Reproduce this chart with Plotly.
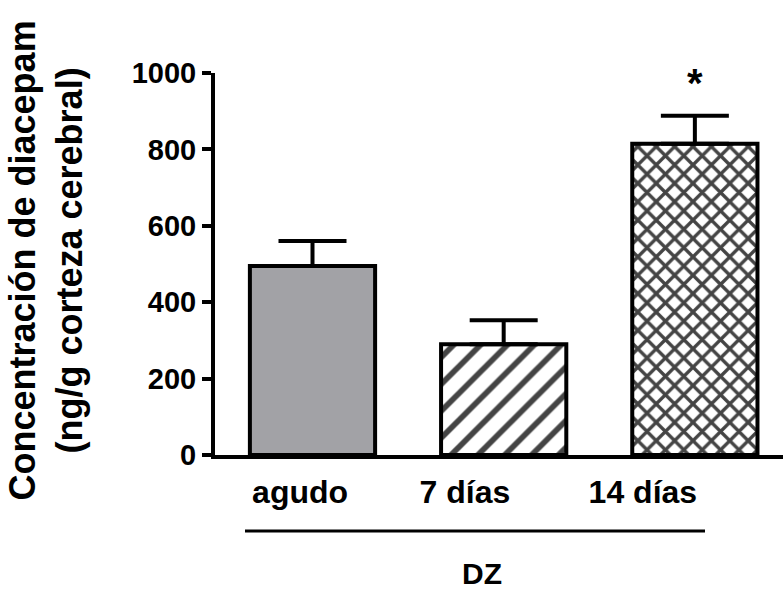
import plotly.graph_objects as go

# ---- data ----
categories = ["agudo", "7 días", "14 días"]
means = [495, 290, 815]
sem = [65, 63, 73]
y_ticks = [0, 200, 400, 600, 800, 1000]

# ---- layout constants ----
bar_x = [0, 1, 2]
label_offsets = [-0.065, -0.203, -0.272]
label_pos = [b + o for b, o in zip(bar_x, label_offsets)]
FONT = "Liberation Sans, Arial, sans-serif"

fig = go.Figure()
fig.add_trace(go.Bar(
    x=bar_x,
    y=means,
    width=0.655,
    marker=dict(
        color=["#a2a2a6", "white", "white"],
        line=dict(color="black", width=4),
        pattern=dict(
            shape=["", "/", "x"],
            size=[10, 19, 13],
            solidity=[0.2, 0.3, 0.45],
            fgcolor="black",
            fgopacity=1,
            fillmode="overlay",
        ),
    ),
    error_y=dict(
        type="data",
        symmetric=False,
        array=sem,
        arrayminus=[0, 0, 0],
        color="black",
        thickness=4,
        width=34,
    ),
    showlegend=False,
))

fig.update_layout(
    width=783,
    height=596,
    margin=dict(l=215, r=0, t=73, b=141),
    plot_bgcolor="white",
    paper_bgcolor="white",
    font=dict(family=FONT, color="black"),
    xaxis=dict(
        range=[-0.51, 2.461],
        tickmode="array",
        tickvals=label_pos,
        ticktext=categories,
        showline=True,
        linecolor="black",
        linewidth=4,
        ticks="",
        showgrid=False,
        zeroline=False,
        tickfont=dict(family=FONT, size=32, weight="bold", color="black"),
        ticklabelstandoff=6,
    ),
    yaxis=dict(
        range=[0, 1000],
        tickmode="array",
        tickvals=y_ticks,
        ticktext=[str(v) for v in y_ticks],
        showline=True,
        linecolor="black",
        linewidth=4,
        ticks="outside",
        ticklen=9,
        tickwidth=4,
        tickcolor="black",
        showgrid=False,
        zeroline=False,
        tickfont=dict(family=FONT, size=29, weight="bold", color="black"),
    ),
    shapes=[
        dict(type="line", xref="paper", yref="paper",
             x0=(245 - 215) / 568, x1=(705 - 215) / 568,
             y0=-0.199, y1=-0.199,
             line=dict(color="black", width=3)),
    ],
    annotations=[
        dict(text="Concentración de diacepam<br>(ng/g corteza cerebral)",
             xref="paper", yref="paper", x=-0.297, y=0.51,
             xanchor="center", yanchor="middle", textangle=-90,
             showarrow=False,
             font=dict(family=FONT, size=36, weight="bold", color="black")),
        dict(text="DZ", xref="paper", yref="paper", x=0.47, y=-0.31,
             xanchor="center", yanchor="middle", showarrow=False,
             font=dict(family=FONT, size=30, weight="bold", color="black")),
        dict(text="*", xref="x", yref="y", x=2, y=means[2] + sem[2] + 85,
             xanchor="center", yanchor="middle", showarrow=False,
             font=dict(family=FONT, size=40, weight="bold", color="black")),
    ],
)

fig.write_html("out.html")
